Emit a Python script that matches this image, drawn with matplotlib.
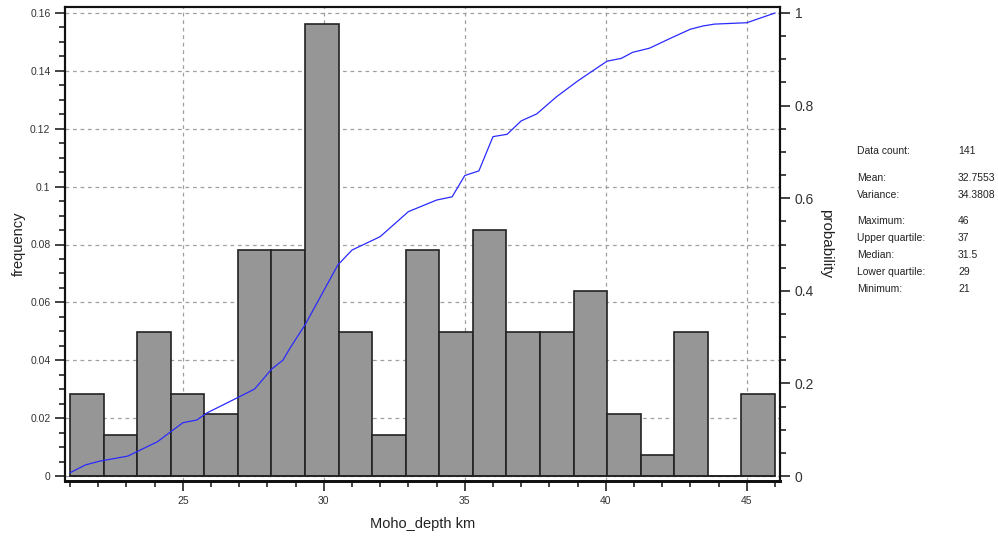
import numpy as np
import matplotlib
matplotlib.use("Agg")
import matplotlib.pyplot as plt
from matplotlib.ticker import MultipleLocator, FuncFormatter

plt.rcParams['font.family'] = ['Liberation Sans', 'DejaVu Sans']

# histogram: 21 bins between 21 and 46 km, counts out of 141 samples
bin_lo = 21
bin_hi = 46
counts = [4, 2, 7, 4, 3, 11, 11, 22, 7, 2, 11, 7, 12, 7, 7, 9, 3, 1, 7, 0, 4]
n_total = 141

# cumulative probability curve
cdf_x = [21.0, 21.55, 22.05, 23.05, 24.1, 25.0, 25.5, 25.85, 27.0, 27.55, 28.15,
         28.55, 28.8, 29.33, 30.5, 31.0, 32.0, 33.0, 34.0, 34.55, 35.0, 35.5,
         36.0, 36.5, 37.0, 37.55, 38.25, 39.0, 39.8, 40.05, 40.55, 40.95, 41.55,
         42.35, 43.0, 43.45, 43.85, 45.0, 46.0]
cdf_p = [0.007, 0.024, 0.032, 0.043, 0.074, 0.115, 0.121, 0.136, 0.171, 0.188, 0.231,
         0.25, 0.276, 0.326, 0.456, 0.488, 0.517, 0.571, 0.596, 0.603, 0.649, 0.659,
         0.733, 0.738, 0.767, 0.782, 0.819, 0.853, 0.886, 0.896, 0.902, 0.915, 0.924,
         0.947, 0.965, 0.972, 0.976, 0.979, 1.0]

stat_names = ["Data count:", "Mean:", "Variance:", "Maximum:", "Upper quartile:",
              "Median:", "Lower quartile:", "Minimum:"]
stat_values = ["141", "32.7553", "34.3808", "46", "37", "31.5", "29", "21"]
stat_rows_y = [151, 178, 195, 221, 238, 255, 272, 289]

W, H = 998, 536
fig = plt.figure(figsize=(W / 100, H / 100), dpi=100)
ax = fig.add_axes([65 / W, (H - 481) / H, (780 - 65) / W, (481 - 7) / H])

edges = np.linspace(bin_lo, bin_hi, len(counts) + 1)
freq = np.array(counts) / n_total
ax.bar(edges[:-1], freq, width=edges[1] - edges[0], align='edge',
       color='#969696', edgecolor='#222222', linewidth=1.2, zorder=3)
ax.plot([bin_lo, bin_hi], [0, 0], color='#222222', lw=1.2, zorder=4)

px_x = (bin_hi - bin_lo) / (775.2 - 70.2)
px_y = 0.16 / 463
ax.set_xlim(bin_lo - 5 * px_x, bin_hi + 5 * px_x)
ax.set_ylim(-5 * px_y, 0.16 + 6 * px_y)
ax.yaxis.set_major_locator(MultipleLocator(0.02))
ax.yaxis.set_minor_locator(MultipleLocator(0.005))
ax.yaxis.set_major_formatter(FuncFormatter(lambda v, p: '%g' % round(v, 4)))
ax.set_xticks([t for t in range(25, 46, 5)])
ax.set_xticks([t for t in range(bin_lo, bin_hi + 1) if t % 5], minor=True)
ax.tick_params(axis='both', which='major', length=7, width=1.2, labelsize=7.5,
               colors='#222222', labelcolor='#333333')
ax.tick_params(axis='both', which='minor', length=4.5, width=1.2, colors='#222222')
ax.grid(True, which='major', color='#a0a0a0', linestyle=(0, (3, 3)), lw=0.9, zorder=1)
ax.set_axisbelow(True)
for s in ax.spines.values():
    s.set_linewidth(1.5)
    s.set_color('#111111')
ax.spines['bottom'].set_linewidth(2)

ax.set_xlabel("Moho_depth km", fontsize=10.5, color='#222222', labelpad=8)
ax.set_ylabel("frequency", fontsize=10.5, color='#222222', labelpad=3)

ax2 = ax.twinx()
px_p = 1.0 / 463
ax2.set_ylim(-5 * px_p, 1 + 6 * px_p)
ax2.plot(cdf_x, cdf_p, color='#2a2aff', lw=0.9, zorder=5)
ax2.yaxis.set_major_locator(MultipleLocator(0.2))
ax2.yaxis.set_minor_locator(MultipleLocator(0.05))
ax2.yaxis.set_major_formatter(FuncFormatter(lambda v, p: '%g' % round(v, 3)))
ax2.tick_params(axis='y', which='major', length=7, width=1.2, labelsize=10,
                colors='#222222', labelcolor='#333333')
ax2.tick_params(axis='y', which='minor', length=4.5, width=1.2, colors='#222222')
for s in ax2.spines.values():
    s.set_linewidth(1.5)
    s.set_color('#111111')
ax2.spines['bottom'].set_linewidth(2)
ax2.set_ylabel("probability", fontsize=11, color='#222222', rotation=270, labelpad=14)

for name, val, yy in zip(stat_names, stat_values, stat_rows_y):
    fig.text(857 / W, 1 - yy / H, name, fontsize=7.5, color='#222222', va='center')
    fig.text(958 / W, 1 - yy / H, val, fontsize=7.5, color='#222222', va='center')

fig.savefig("out.png", dpi=100)
